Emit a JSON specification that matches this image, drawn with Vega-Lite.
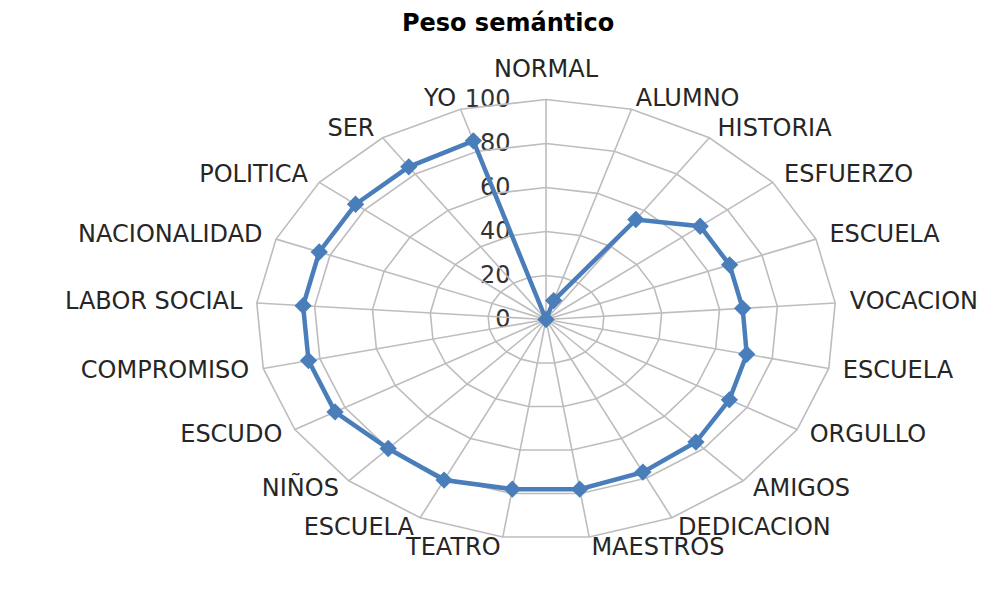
{
  "$schema": "https://vega.github.io/schema/vega-lite/v6.json",
  "autosize": "none",
  "padding": {"top": 48, "left": 0, "right": 0, "bottom": 0},
  "width": 1000,
  "height": 541,
  "background": "white",
  "config": {"view": {"stroke": null}},
  "title": {"text": "Peso semántico", "font": "DejaVu Sans", "fontWeight": "bold", "fontSize": 24, "color": "#000000", "anchor": "middle", "offset": 12, "dx": 8},
  "datasets": {
    "cats": [
      {"i": 0, "cat": "NORMAL", "value": 0},
      {"i": 1, "cat": "ALUMNO", "value": 9},
      {"i": 2, "cat": "HISTORIA", "value": 55},
      {"i": 3, "cat": "ESFUERZO", "value": 68},
      {"i": 4, "cat": "ESCUELA", "value": 68},
      {"i": 5, "cat": "VOCACION", "value": 68},
      {"i": 6, "cat": "ESCUELA", "value": 71},
      {"i": 7, "cat": "ORGULLO", "value": 73},
      {"i": 8, "cat": "AMIGOS", "value": 76},
      {"i": 9, "cat": "DEDICACION", "value": 77},
      {"i": 10, "cat": "MAESTROS", "value": 78},
      {"i": 11, "cat": "TEATRO", "value": 78},
      {"i": 12, "cat": "ESCUELA", "value": 81},
      {"i": 13, "cat": "NIÑOS", "value": 80},
      {"i": 14, "cat": "ESCUDO", "value": 84},
      {"i": 15, "cat": "COMPROMISO", "value": 84},
      {"i": 16, "cat": "LABOR SOCIAL", "value": 84},
      {"i": 17, "cat": "NACIONALIDAD", "value": 84},
      {"i": 18, "cat": "POLITICA", "value": 84},
      {"i": 19, "cat": "SER", "value": 84},
      {"i": 20, "cat": "YO", "value": 85}
    ]
  },
  "data": {"name": "cats"},
  "transform": [
    {"calculate": "datum.i * 2 * PI / 21", "as": "a"},
    {"calculate": "sin(datum.a)", "as": "s"},
    {"calculate": "cos(datum.a)", "as": "c"}
  ],
  "encoding": {
    "x": {"field": "X", "type": "quantitative", "scale": {"domain": [-188.28, 156.55], "nice": false, "zero": false}, "axis": null},
    "y": {"field": "Y", "type": "quantitative", "scale": {"domain": [-122.5, 123.41], "nice": false, "zero": false},
      "axis": {"orient": "left", "offset": -546, "values": [0, 20, 40, 60, 80, 100], "ticks": false, "tickSize": 0, "domain": false, "grid": false, "labelPadding": 36, "labelFont": "DejaVu Sans", "labelFontSize": 24, "labelColor": "#333333", "title": null}}
  },
  "layer": [
    {
      "transform": [
        {"calculate": "[20, 40, 60, 80, 100]", "as": "lv"},
        {"flatten": ["lv"]},
        {"calculate": "datum.lv * datum.s", "as": "X"},
        {"calculate": "datum.lv * datum.c", "as": "Y"}
      ],
      "mark": {"type": "line", "interpolate": "linear-closed", "color": "#bdbdbd", "strokeWidth": 1.6},
      "encoding": {"detail": {"field": "lv"}, "order": {"field": "i", "type": "quantitative"}}
    },
    {
      "transform": [
        {"calculate": "0", "as": "X"},
        {"calculate": "0", "as": "Y"},
        {"calculate": "100 * datum.s", "as": "X2"},
        {"calculate": "100 * datum.c", "as": "Y2"}
      ],
      "mark": {"type": "rule", "color": "#bdbdbd", "strokeWidth": 1.6},
      "encoding": {"x2": {"field": "X2"}, "y2": {"field": "Y2"}}
    },
    {
      "transform": [
        {"calculate": "datum.value * datum.s", "as": "X"},
        {"calculate": "datum.value * datum.c", "as": "Y"}
      ],
      "mark": {"type": "line", "interpolate": "linear-closed", "color": "#4a7ebb", "strokeWidth": 4.5},
      "encoding": {"order": {"field": "i", "type": "quantitative"}}
    },
    {
      "transform": [
        {"calculate": "datum.value * datum.s", "as": "X"},
        {"calculate": "datum.value * datum.c", "as": "Y"}
      ],
      "mark": {"type": "point", "shape": "diamond", "filled": true, "size": 300, "color": "#4a7ebb", "opacity": 1}
    },
    {
      "transform": [
        {"filter": "datum.s > 0.1"},
        {"calculate": "105 * datum.s", "as": "X"},
        {"calculate": "105 * datum.c", "as": "Y"}
      ],
      "mark": {"type": "text", "align": "left", "baseline": "middle", "font": "DejaVu Sans", "fontSize": 24, "color": "#262626"},
      "encoding": {"text": {"field": "cat"}}
    },
    {
      "transform": [
        {"filter": "datum.s < -0.1"},
        {"calculate": "105 * datum.s", "as": "X"},
        {"calculate": "105 * datum.c", "as": "Y"}
      ],
      "mark": {"type": "text", "align": "right", "baseline": "middle", "font": "DejaVu Sans", "fontSize": 24, "color": "#262626"},
      "encoding": {"text": {"field": "cat"}}
    },
    {
      "transform": [
        {"filter": "abs(datum.s) <= 0.1"},
        {"calculate": "108 * datum.s", "as": "X"},
        {"calculate": "108 * datum.c", "as": "Y"}
      ],
      "mark": {"type": "text", "align": "center", "baseline": "bottom", "font": "DejaVu Sans", "fontSize": 24, "color": "#262626"},
      "encoding": {"text": {"field": "cat"}}
    }
  ]
}
